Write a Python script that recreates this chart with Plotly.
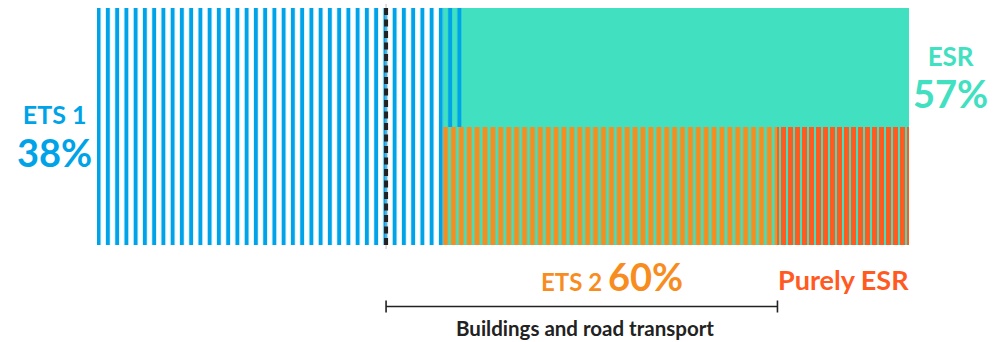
import plotly.graph_objects as go

# --- data: horizontal extent of each block, in % of the full bar width ---
segments = ["ETS 1", "ETS 1 (upper)", "ESR", "ETS 2", "Purely ESR"]
seg_start = [0.0, 42.6, 42.6, 42.6, 83.8]
seg_end = [42.6, 44.9, 100.0, 83.8, 100.0]
seg_band = ["full", "upper", "full", "lower", "lower"]

scope_line = 35.6                      # dashed divider
bracket_span = [35.6, 83.8]            # buildings and road transport
bracket_label = "Buildings and road transport"

label_names = ["ETS 1", "ESR", "ETS 2", "Purely ESR"]
label_values = ["38%", "57%", "60%", ""]

# --- styling ---
BLUE = "#00A3E8"
TEAL = "#40E0C0"
ORANGE = "#F78D1F"
RED = "#FF5A1F"
DARK = "#222222"
FONT = "Lato"

W, H = 1004, 342
L, R, T, B = 94, 95, 8, 97
PX_PER_UNIT = (W - R - 97) / 100.0     # bar starts at x=97px
x_lo = -(97 - L) / PX_PER_UNIT


def stripes(color, period, line_px):
    # plotly's "|" pattern draws a line of width solidity * size
    return dict(shape="|", size=period, solidity=line_px / period, fgcolor=color)


band_y = {"full": (0.0, 1.0), "upper": (0.5, 1.0), "lower": (0.0, 0.5)}
styles = {
    "ETS 1": dict(pattern=stripes(BLUE, 9.25, 4.0)),
    "ETS 1 (upper)": dict(pattern=stripes(BLUE, 9.25, 4.0)),
    "ESR": dict(color=TEAL),
    "ETS 2": dict(pattern=stripes(ORANGE, 7.899, 5.0)),
    "Purely ESR": dict(pattern=stripes(RED, 7.0, 5.0)),
}
# solid blocks first, patterned stripes on top
order = [2, 0, 1, 3, 4]

fig = go.Figure()
for i in order:
    name = segments[i]
    y0, y1 = band_y[seg_band[i]]
    st = styles[name]
    marker = dict(line=dict(width=0))
    if "pattern" in st:
        p = dict(st["pattern"])
        p.update(bgcolor="rgba(0,0,0,0)", fillmode="replace")
        marker.update(color="rgba(0,0,0,0)", pattern=p)
    else:
        marker.update(color=st["color"])
    fig.add_trace(go.Bar(
        x=[(seg_start[i] + seg_end[i]) / 2], width=[seg_end[i] - seg_start[i]],
        base=[y0], y=[y1 - y0], marker=marker, name=name,
        hoverinfo="skip", showlegend=False,
    ))

plot_w = W - L - R
plot_h = H - T - B


def px(xpix):
    return (xpix - L) / plot_w


def py(ypix):
    return (H - B - ypix) / plot_h


shapes = [
    # faint guide behind the dashed divider
    dict(type="line", xref="x", yref="paper", x0=scope_line, x1=scope_line,
         y0=py(4), y1=py(249), line=dict(color="#BBBBBB", width=1)),
    dict(type="line", xref="x", yref="y", x0=scope_line, x1=scope_line,
         y0=1, y1=0, line=dict(color=DARK, width=4, dash="7px,4.5px")),
    # bracket
    dict(type="line", xref="x", yref="paper", x0=bracket_span[0], x1=bracket_span[1],
         y0=py(306.5), y1=py(306.5), line=dict(color=DARK, width=1.6)),
    dict(type="line", xref="x", yref="paper", x0=bracket_span[0], x1=bracket_span[0],
         y0=py(300.5), y1=py(312.5), line=dict(color=DARK, width=1.6)),
    dict(type="line", xref="x", yref="paper", x0=bracket_span[1], x1=bracket_span[1],
         y0=py(300.5), y1=py(312.5), line=dict(color=DARK, width=1.6)),
]


def two_line(name, value, name_size, value_size):
    return (f"<span style='font-size:{name_size}px'>{name}</span><br>"
            f"<span style='font-size:{value_size}px'>{value}</span>")


bold = dict(family=FONT, weight="bold")
annotations = [
    dict(x=px(54), y=py(137), text=two_line(label_names[0], label_values[0], 25, 38),
         font=dict(size=33, color=BLUE, **bold)),
    dict(x=px(950), y=py(78), text=two_line(label_names[1], label_values[1], 26, 38),
         font=dict(size=32, color=TEAL, **bold)),
    dict(x=px(612), y=py(276),
         text=f"{label_names[2]} <span style='font-size:38px'>{label_values[2]}</span>",
         font=dict(size=24, color=ORANGE, **bold)),
    dict(x=px(911), y=py(279), xanchor="right", text=label_names[3],
         font=dict(size=27, color=RED, **bold)),
    dict(x=px(585), y=py(328), text=bracket_label, font=dict(size=20.5, color=DARK, **bold)),
]
for a in annotations:
    a.update(xref="paper", yref="paper", showarrow=False)
    a.setdefault("xanchor", "center")
    a.setdefault("yanchor", "middle")

fig.update_layout(
    width=W, height=H,
    margin=dict(l=L, r=R, t=T, b=B),
    paper_bgcolor="white", plot_bgcolor="white",
    barmode="overlay", bargap=0,
    xaxis=dict(range=[x_lo, 100], visible=False, fixedrange=True),
    yaxis=dict(range=[0, 1], visible=False, fixedrange=True),
    shapes=shapes, annotations=annotations,
    showlegend=False,
)

fig.write_html("out.html", config={"displayModeBar": False})
